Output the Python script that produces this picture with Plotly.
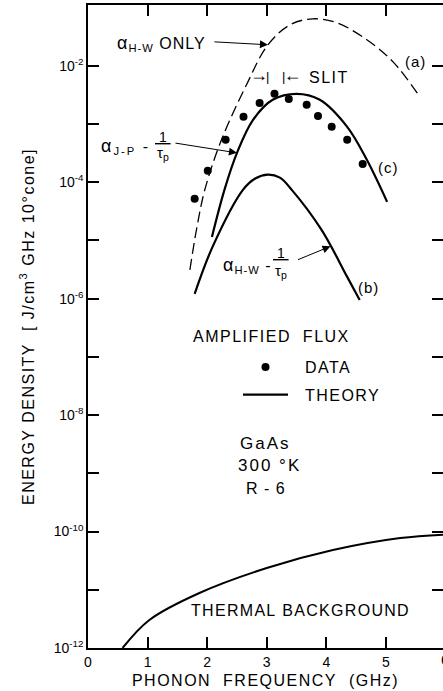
import numpy as np
import plotly.graph_objects as go

FONT = "Liberation Sans, Arial, sans-serif"

# ---------------- data ----------------
# (a) alpha_H-W only  (dashed)
freq_a = [1.71, 1.82, 1.96, 2.24, 2.66, 3.02, 3.39, 3.77, 4.18, 4.68, 5.12, 5.57]
energy_a = [3.13e-6, 1.52e-5, 7.4e-5, 5.36e-4, 4.72e-3, 2.30e-2, 5.06e-2, 6.43e-2,
            5.48e-2, 2.80e-2, 1.17e-2, 2.93e-3]

# (c) alpha_J-P - 1/tau_p  (theory)
freq_c = [2.08, 2.29, 2.50, 2.77, 3.10, 3.50, 3.89, 4.35, 4.68, 5.02]
energy_c = [1.15e-5, 7.4e-5, 3.2e-4, 1.18e-3, 2.61e-3, 3.30e-3, 2.61e-3, 8.95e-4,
            2.43e-4, 4.60e-5]

# (b) alpha_H-W - 1/tau_p  (theory)
freq_b = [1.79, 2.09, 2.60, 2.80, 3.02, 3.22, 3.42, 3.92, 4.35, 4.56]
energy_b = [1.21e-6, 7.76e-6, 7.40e-5, 1.15e-4, 1.35e-4, 1.20e-4, 7.40e-5, 1.52e-5,
            2.37e-6, 9.53e-7]

# measured amplified flux
freq_data = [1.79, 2.01, 2.31, 2.61, 2.88, 3.13, 3.37, 3.67, 3.86, 4.09, 4.35, 4.61]
energy_data = [5.19e-5, 1.57e-4, 5.36e-4, 1.33e-3, 2.31e-3, 3.30e-3, 2.69e-3, 2.14e-3,
               1.38e-3, 8.95e-4, 5.36e-4, 2.06e-4]

# thermal background
freq_thermal = [0.58, 1.03, 1.87, 3.00, 4.11, 5.24, 6.00]
energy_thermal = [1.0e-12, 3.03e-12, 8.81e-12, 2.37e-11, 4.83e-11, 7.76e-11, 8.9e-11]

x_ticks = [0, 1, 2, 3, 4, 5]
x_tick_labels = ["0", "1", "2", "3", "4", "5"]
y_major = [-12, -10, -8, -6, -4, -2]
y_minor = [-11, -9, -7, -5, -3]
y_tick_labels = [f"10<sup>-{-k}</sup>" for k in y_major]

# ---------------- layout geometry ----------------
W, H = 443, 691
L, R, T, B = 88, 0, 5, 43
PW, PH = W - L - R, H - T - B


def px(x):
    return (x - L) / PW


def py(y):
    return (H - B - y) / PH


def sp(text, ls):
    return f'<span style="letter-spacing:{ls}px">{text}</span>'


def txt(text, x, y, size=16, xanchor="center", yanchor="middle", ls=1.2):
    return dict(text=sp(text, ls), x=px(x), y=py(y), xref="paper", yref="paper",
                xanchor=xanchor, yanchor=yanchor, showarrow=False,
                font=dict(size=size, family=FONT, color="black"))


def curve_arrow(xs, ys, x0, ax, ay):
    return dict(x=x0, y=float(np.interp(x0, xs, np.log10(ys))), xref="x", yref="y",
                text="", showarrow=True, ax=ax, ay=ay, arrowhead=2, arrowsize=1.6,
                arrowwidth=1, arrowcolor="black")


fig = go.Figure()
fig.add_trace(go.Scatter(x=freq_a, y=energy_a, mode="lines", showlegend=False,
                         line=dict(color="black", width=1.3, dash="11px,5px",
                                   shape="spline", smoothing=1)))
fig.add_trace(go.Scatter(x=freq_c, y=energy_c, mode="lines",
                         name=sp("\u00a0\u00a0THEORY", 1.5),
                         legendgroup="t", legendrank=2,
                         line=dict(color="black", width=2.2, shape="spline", smoothing=1)))
fig.add_trace(go.Scatter(x=freq_b, y=energy_b, mode="lines", showlegend=False,
                         line=dict(color="black", width=2.2, shape="spline", smoothing=1)))
fig.add_trace(go.Scatter(x=freq_thermal, y=energy_thermal, mode="lines", showlegend=False,
                         line=dict(color="black", width=2.0, shape="spline", smoothing=1)))
fig.add_trace(go.Scatter(x=freq_data, y=energy_data, mode="markers",
                         name=sp("\u00a0\u00a0DATA", 1.5),
                         legendgroup="d", legendrank=1,
                         marker=dict(color="black", size=8)))

annotations = [
    # alpha_H-W only
    txt("<span style='font-size:18px'>α</span><sub>H-W</sub> ONLY", 115, 44,
        xanchor="left", ls=1.0),
    curve_arrow(freq_a, energy_a, 3.02, -55, -3),
    # slit
    txt("→<span style='font-size:13px'>|</span>", 271, 75, size=18,
        xanchor="right", ls=-2),
    txt("<span style='font-size:13px'>|</span>←", 280, 75, size=18,
        xanchor="left", ls=-2),
    txt("SLIT", 307, 77, xanchor="left", ls=1.5),
    # alpha_J-P - 1/tau_p
    txt("<span style='font-size:18px'>α</span><sub>J-P</sub> -", 99, 146,
        xanchor="left", ls=2),
    txt("<u>\u00a01\u00a0</u>", 163, 137, size=14, ls=0),
    txt("τ<sub>p</sub>", 163, 153, size=15, ls=0),
    curve_arrow(freq_c, energy_c, 2.50, -63, -10),
    # alpha_H-W - 1/tau_p
    txt("<span style='font-size:18px'>α</span><sub>H-W</sub> -", 221, 265,
        xanchor="left", ls=1),
    txt("<u>\u00a01\u00a0</u>", 281, 253, size=14, ls=0),
    txt("τ<sub>p</sub>", 281, 271, size=15, ls=0),
    curve_arrow(freq_b, energy_b, 4.07, -34, 14),
    # curve labels
    txt("(a)", 415, 62, size=15, ls=1),
    txt("(c)", 388, 167, size=15, ls=1),
    txt("(b)", 368, 287, size=15, ls=1),
    # key title and sample info
    txt("AMPLIFIED\u00a0\u00a0FLUX", 271, 336, ls=1.5),
    txt("GaAs", 265, 443, size=17, ls=2),
    txt("300 °K", 269, 465, size=17, ls=2),
    txt("R - 6", 266, 488, size=16, ls=1),
    txt("THERMAL\u00a0BACKGROUND", 300, 610, ls=1.3),
    # partially visible last tick label
    txt("6", 445, 660, size=14, ls=0),
]

tick_style = dict(ticks="inside", ticklen=11, tickwidth=1.6, tickcolor="black")

fig.update_layout(
    width=W, height=H,
    margin=dict(l=L, r=R, t=T, b=B, pad=0),
    paper_bgcolor="white", plot_bgcolor="white",
    font=dict(family=FONT, color="black"),
    showlegend=True,
    legend=dict(x=px(238), y=py(350), xanchor="left", yanchor="top",
                font=dict(size=16, family=FONT, color="black"),
                itemwidth=45, tracegroupgap=4, bgcolor="rgba(0,0,0,0)",
                borderwidth=0, traceorder="grouped"),
    xaxis=dict(range=[0, 5.958], tickvals=x_ticks, ticktext=x_tick_labels,
               **tick_style,
               showline=True, linecolor="black", linewidth=1.5, mirror="ticks",
               showgrid=False, zeroline=False, automargin=False,
               tickfont=dict(size=14, family=FONT, color="black"),
               title=dict(text=sp("PHONON\u00a0\u00a0FREQUENCY\u00a0\u00a0(GHz)", 1.5),
                          font=dict(size=16, family=FONT, color="black"), standoff=6)),
    yaxis=dict(type="log", range=[-12, -0.955],
               tickvals=[10.0 ** k for k in y_major], ticktext=y_tick_labels,
               **tick_style,
               minor=dict(tickvals=[10.0 ** k for k in y_minor], **tick_style,
                          showgrid=False),
               showline=True, linecolor="black", linewidth=1.5, mirror="ticks",
               showgrid=False, zeroline=False, automargin=False,
               tickfont=dict(size=14, family=FONT, color="black"),
               title=dict(text=sp("ENERGY DENSITY\u00a0\u00a0[\u00a0J/cm<sup>3</sup> GHz 10°cone]", 1.5),
                          font=dict(size=16, family=FONT, color="black"), standoff=15)),
    annotations=annotations,
)

fig.write_html("out.html")
